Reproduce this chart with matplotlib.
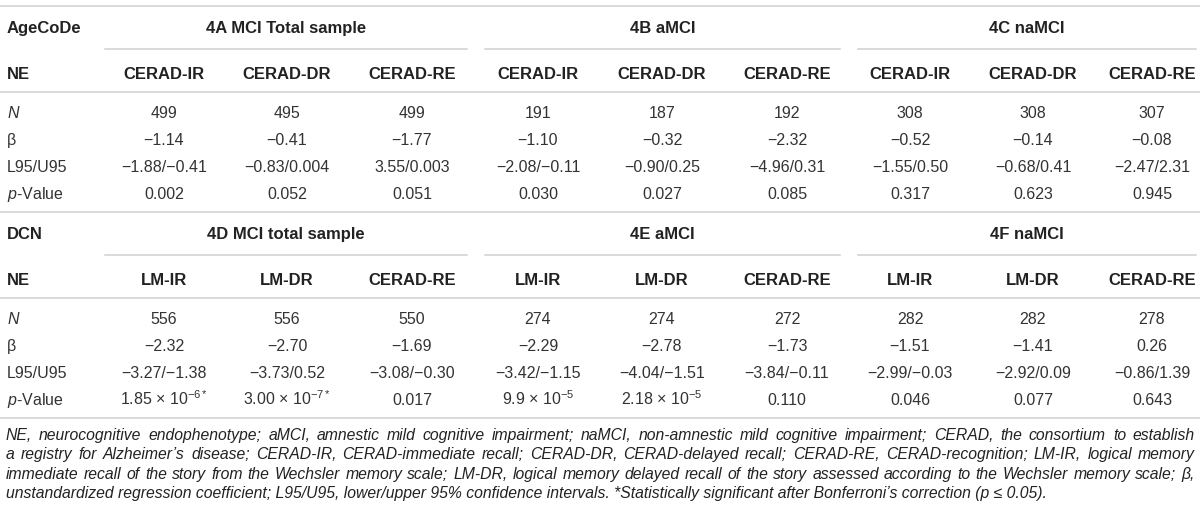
import matplotlib
matplotlib.use("Agg")
import matplotlib.pyplot as plt

plt.rcParams['font.family'] = ['Liberation Sans', 'DejaVu Sans']
plt.rcParams['mathtext.fontset'] = 'custom'
plt.rcParams['mathtext.rm'] = 'Liberation Sans'
plt.rcParams['mathtext.it'] = 'Liberation Sans:italic'
plt.rcParams['mathtext.bf'] = 'Liberation Sans:bold'

# ---- table data ----
row_labels = ['$N$', 'β', 'L95/U95', '$p$-Value']

sec1_name = 'AgeCoDe'
sec1_groups = ['4A MCI Total sample', '4B aMCI', '4C naMCI']
sec1_tests = ['CERAD-IR', 'CERAD-DR', 'CERAD-RE'] * 3
sec1_n = [499, 495, 499, 191, 187, 192, 308, 308, 307]
sec1_beta = ['-1.14', '-0.41', '-1.77', '-1.10', '-0.32', '-2.32', '-0.52', '-0.14', '-0.08']
sec1_ci = ['-1.88/-0.41', '-0.83/0.004', '3.55/0.003', '-2.08/-0.11', '-0.90/0.25',
           '-4.96/0.31', '-1.55/0.50', '-0.68/0.41', '-2.47/2.31']
sec1_p = ['0.002', '0.052', '0.051', '0.030', '0.027', '0.085', '0.317', '0.623', '0.945']

sec2_name = 'DCN'
sec2_groups = ['4D MCI total sample', '4E aMCI', '4F naMCI']
sec2_tests = ['LM-IR', 'LM-DR', 'CERAD-RE'] * 3
sec2_n = [556, 556, 550, 274, 274, 272, 282, 282, 278]
sec2_beta = ['-2.32', '-2.70', '-1.69', '-2.29', '-2.78', '-1.73', '-1.51', '-1.41', '0.26']
sec2_ci = ['-3.27/-1.38', '-3.73/0.52', '-3.08/-0.30', '-3.42/-1.15', '-4.04/-1.51',
           '-3.84/-0.11', '-2.99/-0.03', '-2.92/0.09', '-0.86/1.39']
sec2_p = ['1.85 × 10$^{-6*}$', '3.00 × 10$^{-7*}$', '0.017', '9.9 × 10$^{-5}$',
          '2.18 × 10$^{-5}$', '0.110', '0.046', '0.077', '0.643']

footnote = [
    "NE, neurocognitive endophenotype; aMCI, amnestic mild cognitive impairment; naMCI, non-amnestic mild cognitive impairment; CERAD, the consortium to establish",
    "a registry for Alzheimer’s disease; CERAD-IR, CERAD-immediate recall; CERAD-DR, CERAD-delayed recall; CERAD-RE, CERAD-recognition; LM-IR, logical memory",
    "immediate recall of the story from the Wechsler memory scale; LM-DR, logical memory delayed recall of the story assessed according to the Wechsler memory scale; β,",
    "unstandardized regression coefficient; L95/U95, lower/upper 95% confidence intervals. *Statistically significant after Bonferroni’s correction (p ≤ 0.05).",
]

# layout (pixel coords)
col_x = [164, 287, 412, 538, 662, 787, 910, 1033, 1152]
group_span = [(105, 467), (485, 840), (858, 1196)]
line_col = '#cfcfcf'
dark = '#222222'
mid = '#333333'


def minus(s):
    return s.replace('-', '\u2212')


fig = plt.figure(figsize=(12, 5.12), dpi=100)
ax = fig.add_axes([0, 0, 1, 1])
ax.set_xlim(0, 1200)
ax.set_ylim(512, 0)
ax.axis('off')


def draw_section(top, name, groups, tests, n, beta, ci, p):
    ax.plot([0, 1200], [top, top], color=line_col, lw=1.1)
    ax.text(7, top + 27, name, fontsize=12, fontweight='bold', color=dark, va='baseline')
    for g, (a, b) in zip(groups, group_span):
        ax.text((a + b) / 2, top + 27, g, fontsize=12, fontweight='bold',
                color=dark, ha='center', va='baseline')
        ax.plot([a, b], [top + 43, top + 43], color=line_col, lw=1.1)
    ax.text(7, top + 73, 'NE', fontsize=12, fontweight='bold', color=dark, va='baseline')
    for x, t in zip(col_x, tests):
        ax.text(x, top + 73, t, fontsize=12, fontweight='bold', color=dark,
                ha='center', va='baseline')
    ax.plot([0, 1200], [top + 86, top + 86], color=line_col, lw=1.1)
    rows = [[str(v) for v in n], [minus(v) for v in beta], [minus(v) for v in ci], p]
    for i, (lab, vals) in enumerate(zip(row_labels, rows)):
        yb = top + 112 + 27 * i
        ax.text(7, yb, lab, fontsize=11.5, color=mid, va='baseline')
        for x, v in zip(col_x, vals):
            ax.text(x, yb, v, fontsize=11.5, color=mid, ha='center', va='baseline')


draw_section(6, sec1_name, sec1_groups, sec1_tests, sec1_n, sec1_beta, sec1_ci, sec1_p)
draw_section(212, sec2_name, sec2_groups, sec2_tests, sec2_n, sec2_beta, sec2_ci, sec2_p)
ax.plot([0, 1200], [418, 418], color=line_col, lw=1.1)

# footnote, justified like the journal layout
fn_kw = dict(fontsize=11.3, style='italic', color=dark, va='baseline',
             family=['Liberation Sans', 'DejaVu Sans'])
renderer = fig.canvas.get_renderer()
x0, x1 = 6, 1195
for k, line in enumerate(footnote):
    yb = 440 + 19.3 * k
    if k == len(footnote) - 1:
        ax.text(x0, yb, line, **fn_kw)
        continue
    words = line.split(' ')
    texts = [ax.text(0, yb, w, **fn_kw) for w in words]
    widths = [t.get_window_extent(renderer).width for t in texts]
    gap = (x1 - x0 - sum(widths)) / (len(words) - 1)
    x = x0
    for t, w in zip(texts, widths):
        t.set_x(x)
        x += w + gap

fig.savefig('out.png', dpi=100)
